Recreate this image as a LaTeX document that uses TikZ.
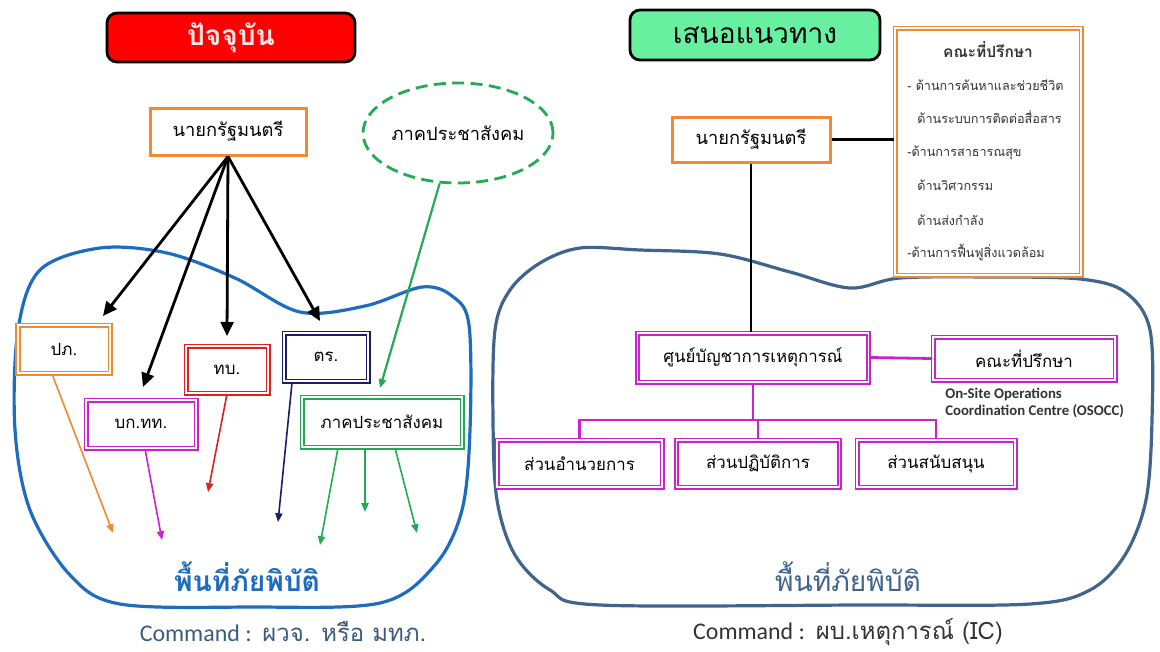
\documentclass[tikz,border=0pt]{standalone}
\usepackage{fontspec}
\setmainfont[Script=Thai]{Loma}
\newfontfamily\latinfont{Carlito}
\usetikzlibrary{arrows.meta,calc,shapes.geometric}

\definecolor{boxorange}{HTML}{F08A30}
\definecolor{boxmagenta}{HTML}{CC22CC}
\definecolor{boxred}{HTML}{E02020}
\definecolor{boxnavy}{HTML}{1C1C6A}
\definecolor{civgreen}{HTML}{22AA55}
\definecolor{areablue}{HTML}{1E6CC0}
\definecolor{areasteel}{HTML}{41648C}
\definecolor{titlegreen}{HTML}{66F0A0}
\definecolor{titlepink}{HTML}{FFE6E6}
\definecolor{cmdgray}{HTML}{3C5A80}
\definecolor{advtext}{HTML}{333333}

\tikzset{
	wh/.style 2 args={minimum width=#1*0.025cm, minimum height=#2*0.025cm},
	box/.style={draw=#1, line width=0.45mm, double=white, double distance=0.35mm, fill=white, inner sep=0pt, font=\fontsize{12}{14}\selectfont},
	pmbox/.style={draw=boxorange, line width=0.75mm, fill=white, inner sep=0pt, font=\fontsize{13}{15}\selectfont},
	titlebox/.style={draw=black, line width=0.7mm, rounded corners=2.5mm, fill=#1, inner sep=0pt, font=\fontsize{20}{24}\selectfont\bfseries},
	govarrow/.style={line width=0.7mm, -{Triangle[length=3.5mm,width=3.2mm]}},
	thinarrow/.style={draw=#1, line width=0.4mm, -{Triangle[length=2.2mm,width=1.8mm]}},
	pmline/.style={line width=0.6mm},
	orgline/.style={draw=boxmagenta, line width=0.7mm},
}

\begin{document}
\begin{tikzpicture}[x=0.025cm, y=-0.025cm]
		%%%%% START %%%%%
		\fill[white] (0,0) rectangle (1160,652);
		\useasboundingbox (0,0) rectangle (1160,652);
		
		% disaster areas
		\draw[areablue, line width=0.8mm] plot[smooth cycle, tension=0.55] coordinates {(18,330) (40,270) (100,248) (167,253) (235,278) (300,312) (365,306) (422,287) (452,296) (469,325) (470,430) (462,510) (435,565) (380,603) (250,607) (120,604) (70,575) (30,510) (15,430)};
		\draw[areasteel, line width=0.8mm] plot[smooth cycle, tension=0.55] coordinates {(495,330) (510,290) (540,263) (580,248) (640,250) (720,254) (790,272) (850,288) (900,278) (990,277) (1080,279) (1125,292) (1150,330) (1152,420) (1146,500) (1125,555) (1090,590) (1030,604) (860,605) (600,605) (550,590) (515,555) (497,500) (493,420)};
		
		% left side : current
		\node[titlebox=red, text=titlepink, wh={248}{49}] (nowTitle) at (231,37.5) {ปัจจุบัน};
		\node[pmbox, wh={156}{47}] (pmL) at (228,131.5) {นายกรัฐมนตรี};
		\node[ellipse, draw=civgreen, line width=0.7mm, dash pattern=on 3mm off 1.6mm, fill=white, inner sep=0pt, font=\fontsize{13}{15}\selectfont, wh={190}{100}] (civ) at (458,133) {ภาคประชาสังคม};
		
		\node[box=boxorange, wh={92}{48}] (dpm) at (64,349) {ปภ.};
		\node[box=boxmagenta, wh={110}{48}] (hq) at (141,424) {บก.ทท.};
		\node[box=boxred, wh={82}{47}] (army) at (227,369.5) {ทบ.};
		\node[box=boxnavy, wh={84}{48}] (police) at (326,357) {ตร.};
		\node[box=civgreen, wh={160}{50}] (civbox) at (382,422) {ภาคประชาสังคม};
		
		\coordinate (tDpm) at (103,316);
		\coordinate (tHq) at (143,387);
		\coordinate (tArmy) at (227,336);
		\coordinate (tPolice) at (320,321);
		\coordinate (tCiv) at (380,388);
		\draw[govarrow] (pmL.south) -- (tDpm);
		\draw[govarrow] (pmL.south) -- (tHq);
		\draw[govarrow] (pmL.south) -- (tArmy);
		\draw[govarrow] (pmL.south) -- (tPolice);
		\draw[thinarrow=civgreen, line width=0.55mm] (civ.-110) -- (tCiv);
		
		\coordinate (gDpm) at (113,533);
		\coordinate (gHq) at (162,540);
		\coordinate (gArmy) at (208,492);
		\coordinate (gPolice) at (278,522);
		\coordinate (gCivA) at (320,545);
		\coordinate (gCivB) at (365,512);
		\coordinate (gCivC) at (417,533);
		\draw[thinarrow=boxorange] ($(dpm.south)+(-12,0)$) -- (gDpm);
		\draw[thinarrow=boxmagenta] ($(hq.south)+(4,0)$) -- (gHq);
		\draw[thinarrow=boxred] (army.south) -- (gArmy);
		\draw[thinarrow=boxnavy] ($(police.south west)+(9,0)$) -- (gPolice);
		\draw[thinarrow=civgreen] ($(civbox.south)+(-44,0)$) -- (gCivA);
		\draw[thinarrow=civgreen] ($(civbox.south)+(-17,0)$) -- (gCivB);
		\draw[thinarrow=civgreen] ($(civbox.south)+(13,0)$) -- (gCivC);
		
		\node[text=areablue, font=\fontsize{20}{24}\selectfont\bfseries] (areaL) at (247,577) {พื้นที่ภัยพิบัติ};
		\node[text=cmdgray, font=\fontsize{17}{20}\selectfont] (cmdL) at (283,632) {{\latinfont Command :} ผวจ. หรือ มทภ.};
		
		% right side : proposal
		\node[titlebox=titlegreen, text=black, font=\fontsize{20}{24}\selectfont, wh={250}{50}] (propTitle) at (755,35) {เสนอแนวทาง};
		\node[pmbox, wh={158}{45}] (pmR) at (751,139.5) {นายกรัฐมนตรี};
		\node[box=boxorange, wh={186}{247}] (adv) at (988,151.5) {};
		\node[text=advtext, font=\fontsize{11}{13}\selectfont\bfseries] (advHead) at (988,50) {คณะที่ปรึกษา};
		\foreach \xx/\yy/\txt in {907/85/{- ด้านการค้นหาและช่วยชีวิต}, 917/117/{ด้านระบบการติดต่อสื่อสาร}, 907/153/{-ด้านการสาธารณสุข}, 917/185/{ด้านวิศวกรรม}, 917/220/{ด้านส่งกำลัง}, 907/252/{-ด้านการฟื้นฟูสิ่งแวดล้อม}}
			\node[anchor=west, inner sep=0pt, text=advtext, font=\fontsize{9}{11}\selectfont] at (\xx,\yy) {\txt};
		
		\node[box=boxmagenta, wh={231}{49}] (icc) at (753,357.5) {ศูนย์บัญชาการเหตุการณ์};
		\node[box=boxmagenta, wh={182}{43}] (advR) at (1024,358.5) {คณะที่ปรึกษา};
		\node[anchor=north west, align=left, inner sep=0pt, font=\latinfont\bfseries\fontsize{10.5}{12}\selectfont, text=advtext] (osocc) at (945,388) {On-Site Operations\\Coordination Centre (OSOCC)};
		
		\node[box=boxmagenta, wh={165}{47}] (secA) at (579.5,463.5) {ส่วนอำนวยการ};
		\node[box=boxmagenta, wh={163}{47}] (secB) at (758,463.5) {ส่วนปฏิบัติการ};
		\node[box=boxmagenta, wh={158}{47}] (secC) at (936,463.5) {ส่วนสนับสนุน};
		
		\draw[pmline] (pmR.east) -- (adv.west |- pmR.east);
		\draw[pmline] (pmR.south) -- (pmR.south |- icc.north);
		\draw[orgline] (icc.east) -- (advR.west);
		\coordinate (bar) at (753,420);
		\draw[orgline] (icc.south) -- (bar);
		\draw[orgline] (secA.north) |- (bar) -| (secC.north);
		\draw[orgline] (bar -| secB.north) -- (secB.north);
		
		\node[text=areasteel, font=\fontsize{20}{24}\selectfont] (areaR) at (848,577) {พื้นที่ภัยพิบัติ};
		\node[text=advtext, font=\fontsize{17}{20}\selectfont] (cmdR) at (848,632) {{\latinfont Command :} ผบ.เหตุการณ์ (IC)};
		%%%%% END %%%%%
	\end{tikzpicture}
\end{document}
